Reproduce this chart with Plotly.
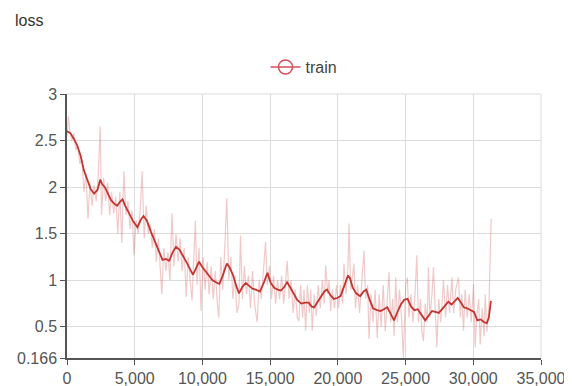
import plotly.graph_objects as go

# ---- data ----
smooth_steps = [0, 250, 500, 750, 1000, 1250, 1500, 1750, 2000, 2250, 2450, 2600, 2800, 3000,
                3250, 3500, 3700, 3900, 4100, 4300, 4600, 4900, 5200, 5450, 5650, 5900, 6200,
                6500, 6800, 7050, 7300, 7550, 7800, 8050, 8300, 8550, 8800, 9050, 9300, 9500,
                9750, 10000, 10250, 10500, 10750, 11000, 11250, 11500, 11800, 12000, 12250,
                12500, 12700, 12950, 13200, 13450, 13700, 13950, 14250, 14550, 14800, 15050,
                15300, 15550, 15800, 16050, 16250, 16500, 16750, 17000, 17300, 17600, 17850,
                18050, 18250, 18500, 18750, 19000, 19200, 19450, 19700, 19950, 20200, 20450,
                20750, 20900, 21100, 21350, 21650, 21900, 22100, 22350, 22600, 22900, 23150,
                23400, 23650, 23900, 24150, 24400, 24650, 24900, 25150, 25400, 25650, 25900,
                26150, 26450, 26700, 26950, 27200, 27450, 27700, 27950, 28150, 28400, 28650,
                28850, 29050, 29300, 29550, 29800, 30050, 30300, 30550, 30800, 31000, 31150,
                31300]
smooth_loss = [2.60, 2.58, 2.52, 2.45, 2.34, 2.18, 2.08, 1.98, 1.93, 1.97, 2.08, 2.03, 2.00, 1.93,
               1.86, 1.82, 1.80, 1.84, 1.87, 1.80, 1.72, 1.63, 1.57, 1.65, 1.69, 1.64, 1.52,
               1.42, 1.30, 1.22, 1.23, 1.21, 1.30, 1.36, 1.33, 1.27, 1.20, 1.13, 1.06, 1.12,
               1.20, 1.14, 1.09, 1.05, 1.00, 0.98, 0.96, 1.05, 1.18, 1.14, 1.06,
               0.94, 0.86, 0.93, 0.97, 0.94, 0.91, 0.90, 0.88, 0.98, 1.08, 0.97,
               0.92, 0.90, 0.89, 0.93, 0.98, 0.92, 0.85, 0.79, 0.75, 0.76, 0.76,
               0.72, 0.71, 0.77, 0.82, 0.88, 0.90, 0.84, 0.80, 0.81, 0.83, 0.93,
               1.05, 1.02, 0.92, 0.86, 0.83, 0.88, 0.90, 0.79, 0.70, 0.68, 0.67,
               0.69, 0.71, 0.64, 0.57, 0.66, 0.74, 0.79, 0.80, 0.72, 0.68, 0.69,
               0.64, 0.57, 0.62, 0.67, 0.66, 0.65, 0.69, 0.74, 0.77, 0.74, 0.78,
               0.81, 0.77, 0.71, 0.70, 0.68, 0.66, 0.57, 0.58, 0.55, 0.54, 0.60,
               0.78]

raw_steps = [0, 100, 200, 350, 500, 650, 800, 950, 1100, 1250, 1400, 1550, 1700, 1850, 2000,
             2150, 2300, 2450, 2550, 2700, 2850, 3000, 3150, 3300, 3450, 3600, 3750, 3900,
             4050, 4200, 4350, 4500, 4650, 4800, 4950, 5100, 5250, 5400, 5550, 5700, 5850,
             6000, 6150, 6300, 6450, 6600, 6750, 6900, 7000, 7150, 7300, 7450, 7600, 7750,
             7900, 8050, 8200, 8350, 8500, 8650, 8800, 8950, 9100, 9230, 9350, 9480, 9600,
             9750, 9900, 10050, 10200, 10350, 10500, 10650, 10800, 10950, 11100, 11210, 11350,
             11500, 11650, 11800, 11950, 12100, 12250, 12400, 12550, 12700, 12810, 12950,
             13100, 13250, 13400, 13550, 13700, 13850, 14040, 14200, 14350, 14500, 14660,
             14800, 14950, 15100, 15250, 15400, 15550, 15700, 15850, 16000, 16150, 16260,
             16400, 16550, 16700, 16850, 17000, 17120, 17250, 17400, 17500, 17620, 17750,
             17900, 18000, 18110, 18250, 18400, 18550, 18700, 18850, 19000, 19100, 19250,
             19350, 19470, 19600, 19750, 19900, 20050, 20200, 20350, 20450, 20600, 20750,
             20820, 20950, 21100, 21190, 21300, 21450, 21600, 21750, 21930, 22050, 22200,
             22300, 22450, 22600, 22750, 22910, 23050, 23200, 23350, 23500, 23650, 23780,
             23900, 24050, 24150, 24270, 24400, 24550, 24700, 24840, 25010, 25130, 25250,
             25400, 25550, 25700, 25830, 25950, 26100, 26200, 26320, 26450, 26600, 26690,
             26800, 26950, 27060, 27200, 27310, 27450, 27600, 27800, 27950, 28100, 28250,
             28420, 28550, 28700, 28910, 29050, 29150, 29280, 29400, 29550, 29700, 29850,
             30020, 30140, 30250, 30400, 30510, 30650, 30800, 30880, 31000, 31150, 31320]
raw_loss = [2.55, 2.76, 2.62, 2.50, 2.58, 2.40, 2.45, 2.25, 2.30, 1.95, 2.15, 1.66, 2.05, 1.80, 2.02,
            1.85, 2.10, 2.65, 1.70, 2.10, 1.85, 2.05, 1.70, 1.95, 1.72, 1.90, 1.50, 1.95,
            1.40, 2.17, 1.70, 1.85, 1.55, 1.75, 1.27, 1.65, 1.50, 1.75, 2.17, 1.45, 1.80,
            1.50, 1.60, 1.35, 1.55, 1.20, 1.45, 1.05, 0.85, 1.35, 1.10, 1.30, 1.00, 1.72,
            1.15, 1.50, 1.20, 1.45, 1.10, 1.35, 0.82, 1.25, 0.95, 0.78, 1.20, 1.64, 0.95,
            1.35, 0.67, 1.25, 0.90, 1.20, 0.85, 1.15, 0.80, 1.10, 0.75, 0.60, 1.25,
            0.90, 1.35, 1.88, 1.00, 1.25, 0.80, 1.05, 0.65, 0.75, 1.48, 0.80,
            1.15, 0.85, 1.05, 0.70, 1.10, 0.75, 0.55, 1.00, 0.80, 1.10, 1.41,
            0.95, 1.15, 0.80, 1.05, 0.75, 1.00, 0.80, 1.05, 0.75, 1.00, 1.21,
            0.80, 1.00, 0.65, 0.90, 0.60, 0.56, 0.95, 0.60, 0.90, 0.46, 0.95,
            0.65, 0.90, 0.46, 0.85, 0.62, 0.95, 0.70, 1.00, 0.75, 1.16, 0.85,
            1.00, 0.67, 0.90, 0.70, 0.95, 0.70, 0.95, 0.75, 1.18, 0.85, 1.15,
            1.61, 0.90, 1.10, 1.18, 0.70, 0.95, 0.65, 1.00, 1.32, 0.80, 0.95,
            0.37, 0.85, 0.55, 0.90, 0.38, 0.85, 0.50, 0.95, 0.45, 0.85, 1.09,
            0.55, 0.80, 0.40, 1.03, 0.55, 0.90, 0.60, 0.17, 0.95, 1.03, 0.60,
            0.85, 0.55, 0.85, 1.27, 0.55, 0.80, 0.45, 0.35, 0.75, 0.55, 1.14,
            0.60, 0.85, 1.14, 0.55, 0.28, 0.80, 0.55, 1.00, 0.60, 0.95, 0.65,
            1.03, 0.65, 0.90, 1.03, 0.60, 0.85, 0.46, 0.90, 0.60, 0.85, 0.55,
            0.96, 0.28, 0.60, 0.80, 0.31, 0.70, 0.40, 0.85, 0.45, 0.70, 1.66]

x_ticks = [0, 5000, 10000, 15000, 20000, 25000, 30000, 35000]
x_tick_text = ["0", "5,000", "10,000", "15,000", "20,000", "25,000", "30,000", "35,000"]
y_ticks = [0.166, 0.5, 1, 1.5, 2, 2.5, 3]
y_tick_text = ["0.166", "0.5", "1", "1.5", "2", "2.5", "3"]

series_name = "train"
chart_title = "loss"

RED = "rgb(194,53,49)"
GRID = "#dcdcdc"
FONT = "Liberation Sans, Arial, sans-serif"

# the page body has an 8px default margin, so the figure is sized to fit the window
FIG_W, FIG_H = 564, 378

fig = go.Figure()
fig.add_trace(go.Scatter(x=raw_steps, y=raw_loss, mode="lines",
                         line=dict(color="rgba(214,90,90,0.33)", width=1.2),
                         showlegend=False, hoverinfo="skip"))
fig.add_trace(go.Scatter(x=smooth_steps, y=smooth_loss, mode="lines",
                         line=dict(color=RED, width=1.8),
                         showlegend=False, name=series_name))
# legend entry (line with hollow circle)
fig.add_trace(go.Scatter(x=[None], y=[None], mode="lines+markers", name=series_name,
                         line=dict(color="rgb(212,80,90)", width=1.5),
                         marker=dict(symbol="circle-open", size=14,
                                     line=dict(color="rgb(212,80,90)", width=1.5))))

# frame lines at the far ends of the grid (top edge and right edge)
fig.add_shape(type="line", xref="paper", yref="paper", x0=0, x1=1, y0=1, y1=1,
              line=dict(color=GRID, width=1), layer="below")
fig.add_shape(type="line", xref="paper", yref="paper", x0=1, x1=1, y0=0, y1=1,
              line=dict(color=GRID, width=1), layer="below")

fig.update_layout(
    width=FIG_W, height=FIG_H,
    margin=dict(l=59, r=31, t=86, b=28, autoexpand=False),
    paper_bgcolor="white", plot_bgcolor="white",
    font=dict(family=FONT, size=16, color="#555"),
    title=dict(text=chart_title, x=7 / FIG_W, xref="container", xanchor="left",
               y=1 - 12 / FIG_H, yref="container", yanchor="middle",
               font=dict(family=FONT, size=16, color="#333")),
    legend=dict(orientation="h", x=0.5, xanchor="center", y=1.102, yanchor="middle",
                font=dict(family=FONT, size=16, color="#444"),
                bgcolor="rgba(0,0,0,0)", itemwidth=30),
    xaxis=dict(range=[0, 35000], tickvals=x_ticks, ticktext=x_tick_text,
               showgrid=True, gridcolor=GRID, gridwidth=1,
               showline=True, linecolor="#555", linewidth=1.5,
               ticks="outside", ticklen=5, tickcolor="#555", zeroline=False,
               automargin=False,
               tickfont=dict(family=FONT, size=16, color="#555")),
    yaxis=dict(range=[0.166, 3], tickvals=y_ticks, ticktext=y_tick_text,
               showgrid=True, gridcolor=GRID, gridwidth=1,
               showline=True, linecolor="#555", linewidth=1.5,
               ticks="outside", ticklen=5, tickcolor="#555", zeroline=False,
               automargin=False,
               tickfont=dict(family=FONT, size=16, color="#555")),
)

fig.write_html("out.html")
